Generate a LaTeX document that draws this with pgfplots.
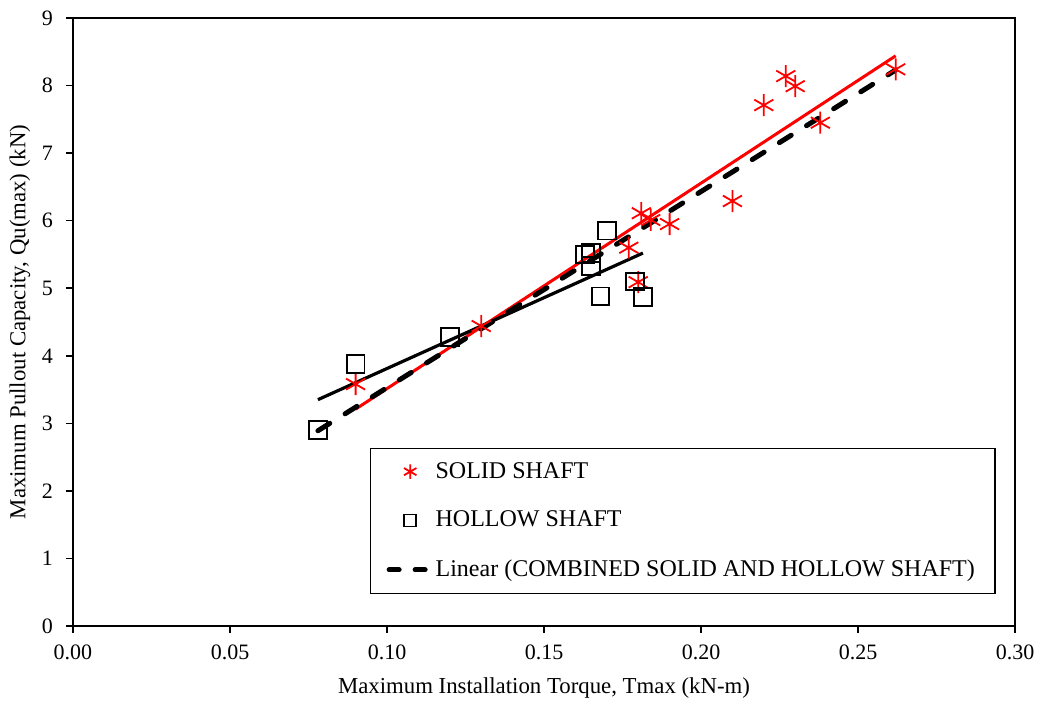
\documentclass[border=0pt]{standalone}
\usepackage{pgfplots}
\pgfplotsset{compat=1.18}
\usepackage{fontspec}
\setmainfont{Liberation Serif}
\pgfplotsset{dashleg/.style={legend image code/.code={\draw[##1, dash pattern=on 5pt off 8pt] (-2pt,0pt) -- (18pt,0pt);}}}
\begin{document}
\begin{tikzpicture}
\begin{axis}[
  name=ax,
  scale only axis,
  width=471pt, height=304pt,
  xmin=0, xmax=0.30, ymin=0, ymax=9,
  xtick={0,0.05,...,0.30},
  ytick={0,1,...,9},
  xticklabel style={yshift=-2.5pt,/pgf/number format/.cd,fixed,fixed zerofill,precision=2},
  /pgf/number format/assume math mode=true,
  tick align=outside,
  major tick length=3.5pt,
  xtick pos=bottom, ytick pos=left,
  axis line style={line width=1pt},
  tick style={line width=0.8pt,black},
  ticklabel style={font=\fontsize{11}{13}\selectfont},
  yticklabel style={xshift=-3pt},
  xlabel={Maximum Installation Torque, Tmax (kN-m)},
  ylabel={Maximum Pullout Capacity, Qu(max) (kN)},
  label style={font=\fontsize{11.4}{13}\selectfont},
  xlabel style={at={(axis description cs:0.5,0)},anchor=center,yshift=-31pt},
  ylabel style={at={([xshift=-26.5pt]axis description cs:0,0.5)},anchor=center},
  legend style={at={(axis cs:0.0946,0.47)},anchor=south west,
    draw=black, line width=0.6pt, font=\fontsize{12}{14}\selectfont,
    inner xsep=8pt, inner ysep=5pt, row sep=11pt,
    /tikz/every even column/.append style={column sep=8pt}},
  legend cell align=left,
]
% solid shaft trend (not in legend)
\addplot[red, line width=1.5pt, forget plot] coordinates {(0.090,3.21) (0.262,8.44)};
% hollow shaft trend (not in legend)
\addplot[black, line width=1.6pt, forget plot] coordinates {(0.078,3.35) (0.1815,5.52)};
% solid shaft data
\addplot[only marks, mark=asterisk, mark size=5.5pt, red, mark options={line width=0.9pt},
  legend image post style={mark size=3.6pt}] coordinates {
(0.090,3.58) (0.130,4.44) (0.177,5.60) (0.180,5.09) (0.181,6.11) (0.184,6.01)
(0.190,5.95) (0.210,6.29) (0.220,7.71) (0.227,8.14) (0.230,7.99) (0.238,7.45) (0.262,8.24)
};
\addlegendentry{SOLID SHAFT}
% hollow shaft data
\addplot[only marks, mark=square, mark size=4.4pt, black, mark options={line width=0.9pt},
  legend image post style={mark size=3pt}] coordinates {
(0.078,2.90) (0.090,3.88) (0.120,4.28) (0.163,5.50) (0.165,5.52) (0.165,5.33)
(0.168,4.88) (0.170,5.85) (0.179,5.10) (0.1815,4.87)
};
\addlegendentry{HOLLOW SHAFT}
% combined trend
\addplot[black, line width=2.5pt, line cap=round, dash pattern=on 7pt off 9pt, dashleg]
  coordinates {(0.078,2.89) (0.262,8.23)};
\addlegendentry{Linear (COMBINED SOLID AND HOLLOW SHAFT)}
\end{axis}
\pgfresetboundingbox
\path ([shift={(-36.5pt,-37.5pt)}]ax.south west) rectangle ([shift={(11pt,9pt)}]ax.north east);
\end{tikzpicture}
\end{document}
